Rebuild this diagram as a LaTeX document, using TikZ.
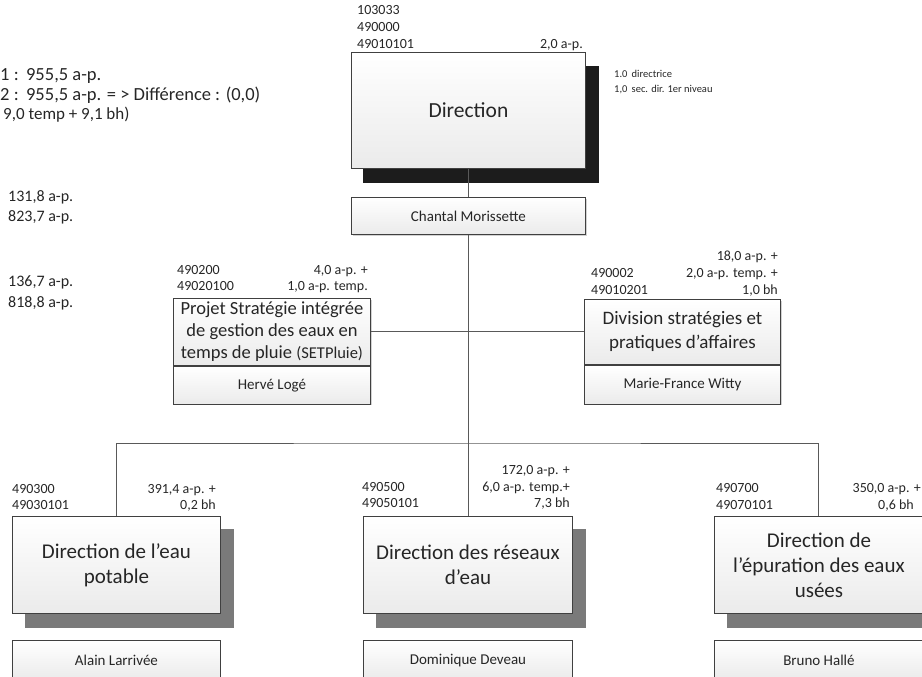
\documentclass[tikz,border=0pt]{standalone}
\usepackage{fontspec}
\setmainfont{Carlito}
\usepackage{xcolor}
\usepackage{tikz}
\usetikzlibrary{positioning,calc}

\definecolor{boxline}{HTML}{404040}
\definecolor{linkgray}{HTML}{595959}
\definecolor{txtgray}{HTML}{262626}
\definecolor{shadowdark}{HTML}{1C1C1C}
\definecolor{shadowmid}{HTML}{7A7A7A}

\begin{document}
\begin{tikzpicture}[x=1pt,y=-1pt,
	unitbox/.style={draw=boxline,line width=0.9pt,top color=white,bottom color=gray!16,inner sep=0pt,anchor=north west,align=center,text=txtgray},
	numtxt/.style={font=\fontsize{14}{17}\selectfont,text=txtgray,inner sep=0pt},
	totaltxt/.style={font=\fontsize{16}{19}\selectfont,text=txtgray,inner sep=0pt,anchor=base west},
	nametxt/.style={font=\fontsize{15}{18}\selectfont},
	link/.style={draw=linkgray,line width=1pt}]
	\useasboundingbox (0,0) rectangle (922,677);
	\clip (0,0) rectangle (922,677);
	
	% totals
	\node[totaltxt,font=\fontsize{18.5}{21}\selectfont] (totA) at (0,81) {1 :\hspace{0.4em}955,5 a-p.};
	\node[totaltxt,font=\fontsize{18.5}{21}\selectfont] (totB) at (0,101) {2 :\hspace{0.4em}955,5 a-p. = > Différence : (0,0)};
	\node[totaltxt,font=\fontsize{17}{21}\selectfont] (totC) at (3,120) {9,0 temp + 9,1 bh)};
	\node[totaltxt] (totD) at (8,201) {131,8 a-p.};
	\node[totaltxt] (totE) at (8,221) {823,7 a-p.};
	\node[totaltxt] (totF) at (8,286) {136,7 a-p.};
	\node[totaltxt] (totG) at (8,307) {818,8 a-p.};
	
	% direction
	\fill[shadowdark] (363,66) rectangle (599,183);
	\node[unitbox,minimum width=234pt,minimum height=116pt,font=\fontsize{21.5}{25}\selectfont] (dir) at (351,52) {Direction};
	\fill[gray!35] (353,199) rectangle (587,236);
	\node[unitbox,minimum width=234pt,minimum height=37pt,nametxt] (chantal) at (351,197) {Chantal Morissette};
	\node[numtxt,anchor=base west] (dirA) at (357,14.5) {103033};
	\node[numtxt,anchor=base west] (dirB) at (357,31.5) {490000};
	\node[numtxt,anchor=base west] (dirC) at (357,48.5) {49010101};
	\node[numtxt,anchor=base east] (dirD) at (583,48.5) {2,0 a-p.};
	\node[numtxt,font=\fontsize{10.5}{15}\selectfont,anchor=base west] (dirE) at (614,77.5) {1.0\hspace{0.4em}directrice};
	\node[numtxt,font=\fontsize{10.5}{15}\selectfont,anchor=base west] (dirF) at (614,92.5) {1,0\hspace{0.4em}sec. dir. 1er niveau};
	
	% staff units
	\fill[gray!35] (175,300) rectangle (372,405);
	\node[unitbox,minimum width=197pt,minimum height=67pt,font=\fontsize{18.5}{22}\selectfont] (setp) at (173,298) {Projet Stratégie intégrée\\de gestion des eaux en\\temps de pluie {\fontsize{16.5}{22}\selectfont(SETPluie)}};
	\node[unitbox,minimum width=197pt,minimum height=38pt,nametxt,below=0pt of setp] (herve) {Hervé Logé};
	\node[numtxt,anchor=base west] (setpA) at (177,274.5) {490200};
	\node[numtxt,anchor=base west] (setpB) at (177,290.5) {49020100};
	\node[numtxt,anchor=base east] (setpC) at (368,274.5) {4,0 a-p. +};
	\node[numtxt,anchor=base east] (setpD) at (368,290.5) {1,0 a-p. temp.};
	
	\fill[gray!35] (586,301) rectangle (782,405);
	\node[unitbox,minimum width=196pt,minimum height=65pt,font=\fontsize{19}{24}\selectfont] (division) at (584,299) {Division stratégies et\\pratiques d’affaires};
	\node[unitbox,minimum width=196pt,minimum height=39pt,nametxt,below=0pt of division] (witty) {Marie-France Witty};
	\node[numtxt,anchor=base west] (divA) at (591,277.5) {490002};
	\node[numtxt,anchor=base west] (divB) at (591,294.5) {49010201};
	\node[numtxt,anchor=base east] (divC) at (778,260.5) {18,0 a-p. +};
	\node[numtxt,anchor=base east] (divD) at (778,277.5) {2,0 a-p. temp. +};
	\node[numtxt,anchor=base east] (divE) at (778,294.5) {1,0 bh};
	
	% directions
	\fill[shadowmid] (25,529) rectangle (234,628);
	\node[unitbox,minimum width=208pt,minimum height=97pt,font=\fontsize{21}{25}\selectfont] (potable) at (12,516) {Direction de l’eau\\potable};
	\node[unitbox,minimum width=208pt,minimum height=40pt,nametxt,below=26pt of potable] (larrivee) {Alain Larrivée};
	\node[numtxt,anchor=base west] (potA) at (12,493.5) {490300};
	\node[numtxt,anchor=base west] (potB) at (12,509.5) {49030101};
	\node[numtxt,anchor=base east] (potC) at (216,493.5) {391,4 a-p. +};
	\node[numtxt,anchor=base east] (potD) at (216,509.5) {0,2 bh};
	
	\fill[shadowmid] (376,529) rectangle (586,628);
	\node[unitbox,minimum width=209pt,minimum height=97pt,font=\fontsize{21}{25}\selectfont] (reseaux) at (363,516) {Direction des réseaux\\d’eau};
	\node[unitbox,minimum width=209pt,minimum height=40pt,nametxt,below=26pt of reseaux] (deveau) {Dominique Deveau};
	\node[numtxt,anchor=base west] (resA) at (362,491.5) {490500};
	\node[numtxt,anchor=base west] (resB) at (362,507.5) {49050101};
	\node[numtxt,anchor=base east] (resC) at (570,474.5) {172,0 a-p. +};
	\node[numtxt,anchor=base east] (resD) at (570,491.5) {6,0 a-p. temp.+};
	\node[numtxt,anchor=base east] (resE) at (570,507.5) {7,3 bh};
	
	\fill[shadowmid] (727,529) rectangle (936,628);
	\node[unitbox,minimum width=209pt,minimum height=97pt,font=\fontsize{21}{25}\selectfont] (epuration) at (714,516) {Direction de\\l’épuration des eaux\\usées};
	\node[unitbox,minimum width=209pt,minimum height=40pt,nametxt,below=26pt of epuration] (halle) {Bruno Hallé};
	\node[numtxt,anchor=base west] (epuA) at (716,492.5) {490700};
	\node[numtxt,anchor=base west] (epuB) at (716,509) {49070101};
	\node[numtxt,anchor=base east] (epuC) at (921,492.5) {350,0 a-p. +};
	\node[numtxt,anchor=base east] (epuD) at (914,509) {0,6 bh};
	
	% links
	\coordinate (bus) at (467,443);
	\draw[link] (dir.south) -- (chantal.north);
	\draw[link] (chantal.south) -- (chantal.south |- reseaux.north);
	\draw[link] (setp.east) -- (division.west);
	\draw[link] (potable.north) |- (bus) -| (epuration.north);
\end{tikzpicture}
\end{document}
